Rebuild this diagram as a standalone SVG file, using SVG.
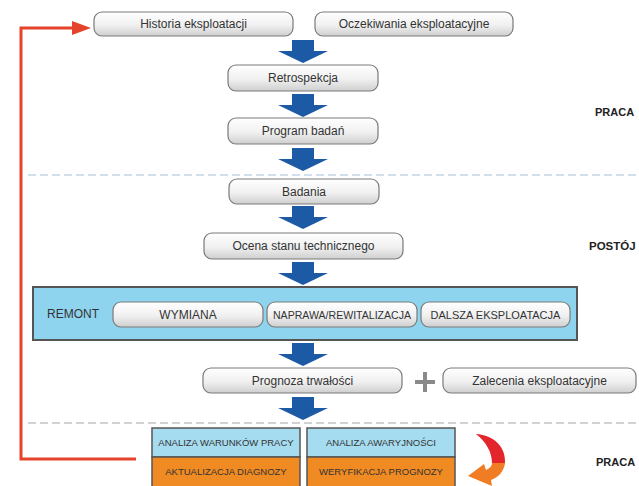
<svg xmlns="http://www.w3.org/2000/svg" width="639" height="486" viewBox="0 0 639 486">
<defs>
<linearGradient id="g" x1="0" y1="0" x2="0" y2="1">
<stop offset="0" stop-color="#ffffff"/>
<stop offset="0.55" stop-color="#f0f0f0"/>
<stop offset="1" stop-color="#cfcfcf"/>
</linearGradient>
<path id="ba" d="M-11,0 H11 V11 H25 L0,23 L-25,11 H-11 Z"/>
</defs>
<style>
.n{fill:url(#g);stroke:#7a7a7a;stroke-width:1.2}
.t{font-family:"Liberation Sans",Arial,sans-serif;font-size:12px;fill:#333;text-anchor:middle}
.s{font-family:"Liberation Sans",Arial,sans-serif;font-size:9.5px;fill:#333;text-anchor:middle}
.lab{font-family:"Liberation Sans",Arial,sans-serif;font-size:11px;font-weight:bold;fill:#222}
.arr{fill:#1d5aa6}
</style>
<rect width="639" height="486" fill="#ffffff"/>
<line x1="28" y1="175" x2="639" y2="175" stroke="#a9bfdc" stroke-width="1.2" stroke-dasharray="8,4"/>
<line x1="28" y1="423" x2="639" y2="423" stroke="#a6a6a6" stroke-width="1.2" stroke-dasharray="8,4"/>
<g id="connectors">
<use href="#ba" class="arr" x="303" y="40"/>
<use href="#ba" class="arr" x="303" y="94"/>
<use href="#ba" class="arr" x="303" y="148"/>
<use href="#ba" class="arr" x="303" y="206"/>
<use href="#ba" class="arr" x="303" y="262"/>
<use href="#ba" class="arr" x="303" y="343"/>
<use href="#ba" class="arr" x="303" y="397"/>
<polyline points="136,459 21,459 21,28 74,28" fill="none" stroke="#e5432b" stroke-width="3"/>
<polygon points="91,28 72,21 72,35" fill="#e5432b"/>
<path d="M476,434 C494,435 506,447 505,463 L492,463 C492,452 486,442 476,434 Z" fill="#e3262b"/>
<path d="M505,463 C504,471 499,477 491,480 L492,486 L468,476 L484,464 L486,470 C490,468 492,466 492,463 Z" fill="#f07d23"/>
</g>
<g id="n-historia"><rect class="n" x="94" y="12" width="199" height="24" rx="8"/><text class="t" x="193.5" y="28">Historia eksploatacji</text></g>
<g id="n-oczekiwania"><rect class="n" x="315" y="12" width="198" height="24" rx="8"/><text class="t" x="414" y="28">Oczekiwania eksploatacyjne</text></g>
<g id="n-retro"><rect class="n" x="228" y="65" width="150" height="26" rx="8"/><text class="t" x="303" y="82">Retrospekcja</text></g>
<g id="n-program"><rect class="n" x="228" y="118" width="150" height="26" rx="8"/><text class="t" x="303" y="135">Program badań</text></g>
<g id="n-badania"><rect class="n" x="229" y="179" width="150" height="25" rx="8"/><text class="t" x="304" y="196">Badania</text></g>
<g id="n-ocena"><rect class="n" x="204" y="233" width="199" height="26" rx="8"/><text class="t" x="303.5" y="250">Ocena stanu technicznego</text></g>
<g id="n-remont">
<rect x="33" y="287" width="544" height="53" fill="#8fd4ef" stroke="#555" stroke-width="2"/>
<text class="t" x="47" y="318" style="text-anchor:start">REMONT</text>
</g>
<g id="n-wymiana"><rect class="n" x="113" y="302" width="150" height="25" rx="8"/><text class="t" x="188" y="319">WYMIANA</text></g>
<g id="n-naprawa"><rect class="n" x="267" y="302" width="150" height="25" rx="8"/><text class="t" x="342" y="319" style="font-size:11px" textLength="138" lengthAdjust="spacingAndGlyphs">NAPRAWA/REWITALIZACJA</text></g>
<g id="n-dalsza"><rect class="n" x="421" y="302" width="149" height="25" rx="8"/><text class="t" x="495.5" y="319" style="font-size:11px">DALSZA EKSPLOATACJA</text></g>
<g id="n-prognoza"><rect class="n" x="203" y="368" width="199" height="25" rx="8"/><text class="t" x="302.5" y="385">Prognoza trwałości</text></g>
<g id="n-plus"><path d="M415,382 H435 M425,372 V392" stroke="#8a8a8a" stroke-width="4"/></g>
<g id="n-zalecenia"><rect class="n" x="443" y="368" width="193" height="25" rx="8"/><text class="t" x="539.5" y="385">Zalecenia eksploatacyjne</text></g>
<g id="n-analiza-war"><rect x="152" y="428" width="148" height="29" fill="#a6dcf0" stroke="#555" stroke-width="1.5"/><text class="s" x="226" y="446">ANALIZA WARUNKÓW PRACY</text></g>
<g id="n-aktualizacja"><rect x="152" y="457" width="148" height="32" fill="#f08a22" stroke="#555" stroke-width="1.5"/><text class="s" x="226" y="475">AKTUALIZACJA DIAGNOZY</text></g>
<g id="n-analiza-aw"><rect x="307" y="428" width="148" height="29" fill="#a6dcf0" stroke="#555" stroke-width="1.5"/><text class="s" x="381" y="446">ANALIZA AWARYJNOŚCI</text></g>
<g id="n-weryfikacja"><rect x="307" y="457" width="148" height="32" fill="#f08a22" stroke="#555" stroke-width="1.5"/><text class="s" x="381" y="475">WERYFIKACJA PROGNOZY</text></g>
<g id="labels">
<text class="lab" x="595" y="116">PRACA</text>
<text class="lab" x="589" y="250" style="font-size:11.5px">POSTÓJ</text>
<text class="lab" x="596" y="466">PRACA</text>
</g>
</svg>
